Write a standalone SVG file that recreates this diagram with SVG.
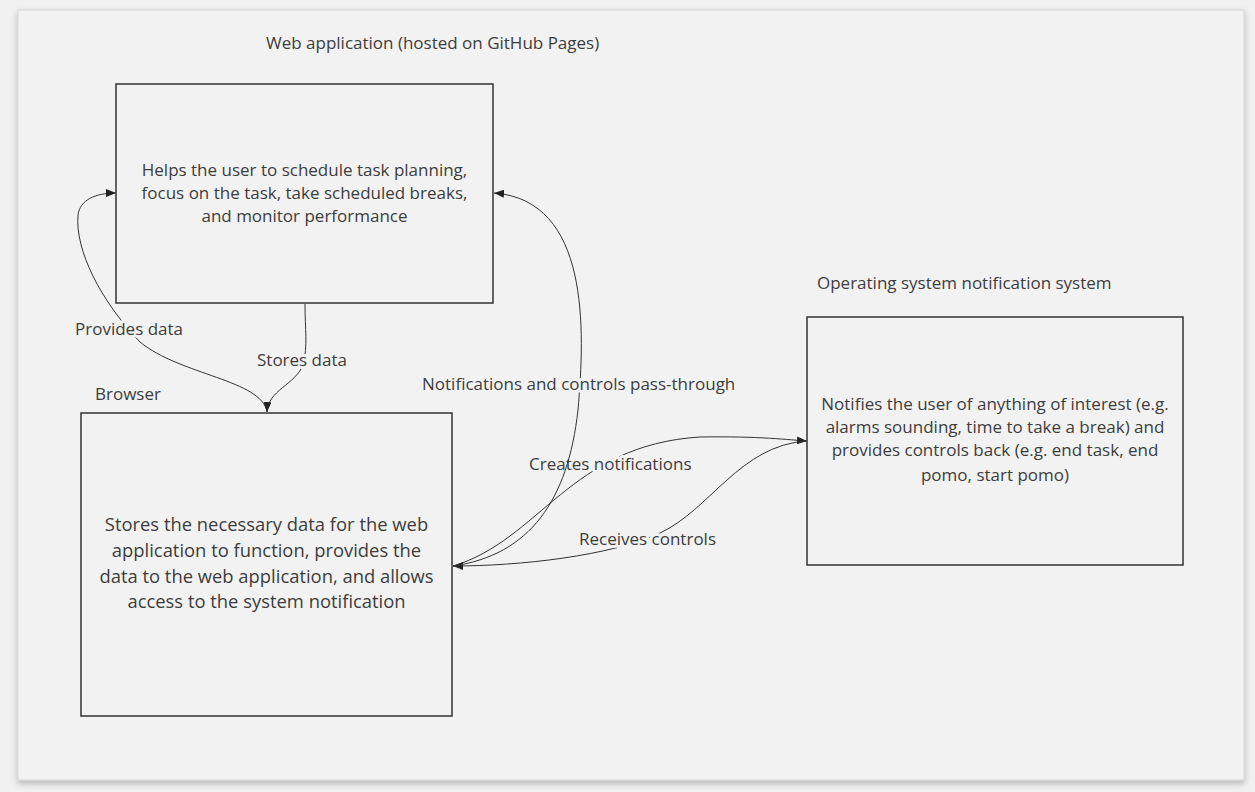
<svg xmlns="http://www.w3.org/2000/svg" width="1255" height="792" viewBox="0 0 1255 792">
<defs>
<marker id="arr" viewBox="0 0 10 8" refX="10" refY="4" markerWidth="10" markerHeight="8" markerUnits="userSpaceOnUse" orient="auto">
<path d="M0,0 L10,4 L0,8 z" fill="#222"/>
</marker>
<filter id="sh" x="-5%" y="-5%" width="110%" height="110%">
<feDropShadow dx="0" dy="3" stdDeviation="3" flood-color="#000" flood-opacity="0.25"/>
</filter>
</defs>
<style>
text{font-family:"Open Sans","Liberation Sans",sans-serif;font-size:17px;fill:#3d3d3d}
.big{font-size:18.4px}
.box{fill:none;stroke:#333;stroke-width:1.5}
.c{text-anchor:middle}
.lbl{paint-order:stroke;stroke:#f2f2f2;stroke-width:6px;stroke-linejoin:round}
.ln{fill:none;stroke:#333;stroke-width:1}
</style>
<rect width="1255" height="792" fill="#f1f1f1"/>
<rect x="18" y="10" width="1226" height="770" fill="#f2f2f2" stroke="#d6d6d6" stroke-width="1" filter="url(#sh)"/>

<g id="connectors">
<path class="ln" d="M267,412 C262,380 180,375 140,342 C100,300 75,250 78,215 C80,200 95,193 116,193" marker-end="url(#arr)"/>
<path class="ln" d="M305,304 C305,330 308,345 303,365 C295,385 268,390 267,412" marker-end="url(#arr)"/>
<path class="ln" d="M453,566 C540,540 570,445 700,437 C760,436 790,440 807,441" marker-end="url(#arr)"/>
<path class="ln" d="M807,441 C740,445 710,510 660,533 C610,556 520,566 453,566" marker-end="url(#arr)"/>
<text class="lbl" x="75" y="335">Provides data</text>
<text class="lbl" x="257" y="366">Stores data</text>
<text class="lbl" x="529" y="470">Creates notifications</text>
<text class="lbl" x="579" y="545">Receives controls</text>
<path class="ln" d="M453,566 C530,555 568,500 578,410 C585,330 590,200 494,193" marker-end="url(#arr)"/>
<text class="lbl" x="422" y="390">Notifications and controls pass-through</text>
</g>

<g id="webapp">
<text x="266" y="49">Web application (hosted on GitHub Pages)</text>
<rect class="box" x="116" y="84" width="377" height="219"/>
<text class="c" x="304.5" y="176">Helps the user to schedule task planning,</text>
<text class="c" x="304.5" y="199">focus on the task, take scheduled breaks,</text>
<text class="c" x="304.5" y="222">and monitor performance</text>
</g>

<g id="browser">
<text x="95" y="400">Browser</text>
<rect class="box" x="81" y="413" width="371" height="303"/>
<text class="c big" x="266.5" y="531">Stores the necessary data for the web</text>
<text class="c big" x="266.5" y="557">application to function, provides the</text>
<text class="c big" x="266.5" y="583">data to the web application, and allows</text>
<text class="c big" x="266.5" y="608">access to the system notification</text>
</g>

<g id="os">
<text x="817" y="289">Operating system notification system</text>
<rect class="box" x="807" y="317" width="376" height="248"/>
<text class="c" x="995" y="410">Notifies the user of anything of interest (e.g.</text>
<text class="c" x="995" y="433">alarms sounding, time to take a break) and</text>
<text class="c" x="995" y="456">provides controls back (e.g. end task, end</text>
<text class="c" x="995" y="481">pomo, start pomo)</text>
</g>
</svg>
